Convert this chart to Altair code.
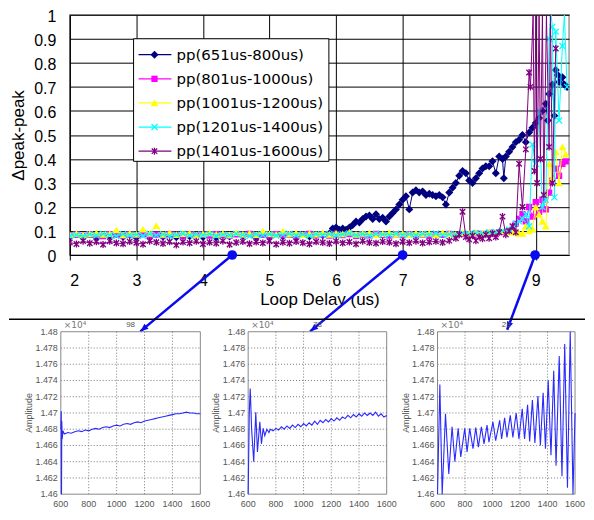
import altair as alt
import pandas as pd

# ---------------- main chart data ----------------
names = ["pp(651us-800us)", "pp(801us-1000us)", "pp(1001us-1200us)",
         "pp(1201us-1400us)", "pp(1401us-1600us)"]
colors = ["#000080", "#ff00ff", "#ffff00", "#00ffff", "#800080"]

grid_x = [round(2.0 + 0.1 * i, 1) for i in range(67)]  # sampling grid 2.0 .. 8.6

navy_flat_x = [round(2.0 + 0.2 * i, 1) for i in range(20)]
navy_flat_y = [0.074, 0.077, 0.072, 0.078, 0.075, 0.073, 0.079, 0.076, 0.074, 0.078,
               0.075, 0.072, 0.077, 0.079, 0.074, 0.076, 0.078, 0.073, 0.077, 0.082]
navy_x = [5.9, 5.95, 6.0, 6.05, 6.1, 6.15, 6.2, 6.25, 6.3, 6.35, 6.4, 6.45, 6.5, 6.55, 6.6,
          6.65, 6.7, 6.75, 6.8, 6.85, 6.9, 6.95, 7.0, 7.05, 7.1, 7.15, 7.2, 7.25, 7.3, 7.35,
          7.4, 7.45, 7.5, 7.55, 7.6, 7.65, 7.7, 7.75, 7.8, 7.85, 7.9, 7.95, 8.0, 8.05, 8.1,
          8.15, 8.2, 8.25, 8.3, 8.35, 8.4, 8.45, 8.5, 8.52, 8.55, 8.6, 8.65, 8.7, 8.75, 8.8,
          8.85, 8.9, 8.95, 9.0, 9.05, 9.1, 9.15, 9.18, 9.2, 9.25, 9.28, 9.3, 9.33, 9.35, 9.4,
          9.43, 9.47]
navy_y = [0.09, 0.11, 0.115, 0.105, 0.11, 0.105, 0.115, 0.125, 0.14, 0.135,
          0.15, 0.16, 0.165, 0.15, 0.17, 0.15, 0.155, 0.14, 0.16, 0.175,
          0.19, 0.21, 0.23, 0.245, 0.19, 0.26, 0.27, 0.26, 0.265, 0.25,
          0.255, 0.25, 0.245, 0.25, 0.24, 0.21, 0.26, 0.28, 0.30, 0.33,
          0.35, 0.34, 0.31, 0.30, 0.32, 0.34, 0.36, 0.37, 0.37, 0.39,
          0.34, 0.41, 0.40, 0.32, 0.41, 0.43, 0.45, 0.47, 0.48, 0.50,
          0.47, 0.51, 0.53, 0.55, 0.57, 0.60, 0.63, 0.56, 0.67, 0.71,
          0.58, 0.77, 0.75, 0.72, 0.74, 0.71, 0.70]

magenta_flat_y = [0.082, 0.085, 0.080, 0.086, 0.083, 0.079, 0.087, 0.084, 0.081, 0.086,
                  0.083, 0.088, 0.080, 0.085, 0.082, 0.087, 0.084, 0.079, 0.086, 0.083,
                  0.085, 0.081, 0.087, 0.083, 0.080, 0.086, 0.084, 0.088, 0.082, 0.085,
                  0.081, 0.087, 0.083, 0.086, 0.080, 0.084, 0.088, 0.082, 0.085, 0.081,
                  0.086, 0.083, 0.087, 0.080, 0.085, 0.082, 0.088, 0.084, 0.081, 0.086,
                  0.083, 0.087, 0.082, 0.085, 0.080, 0.086, 0.084, 0.088, 0.083, 0.087,
                  0.085, 0.090, 0.088, 0.092, 0.087, 0.095, 0.098]
late_x = [8.65, 8.7, 8.75, 8.8, 8.85, 8.9, 8.95, 9.0, 9.05, 9.1, 9.15, 9.2, 9.25, 9.3,
          9.35, 9.4, 9.45]
magenta_late_y = [0.10, 0.13, 0.15, 0.17, 0.14, 0.20, 0.16, 0.22, 0.18, 0.23, 0.19, 0.26,
                  0.31, 0.36, 0.33, 0.38, 0.39]

yellow_flat_y = [0.085, 0.090, 0.083, 0.088, 0.092, 0.086, 0.089, 0.105, 0.084, 0.091,
                 0.087, 0.108, 0.090, 0.122, 0.086, 0.093, 0.085, 0.089, 0.091, 0.084,
                 0.088, 0.092, 0.086, 0.090, 0.084, 0.093, 0.087, 0.091, 0.085, 0.100,
                 0.089, 0.086, 0.100, 0.088, 0.092, 0.085, 0.090, 0.087, 0.093, 0.086,
                 0.091, 0.088, 0.095, 0.086, 0.090, 0.092, 0.085, 0.089, 0.093, 0.087,
                 0.090, 0.086, 0.092, 0.088, 0.091, 0.085, 0.093, 0.089, 0.087, 0.092,
                 0.090, 0.094, 0.091, 0.097, 0.093, 0.100, 0.097]
yellow_late_y = [0.095, 0.10, 0.09, 0.09, 0.12, 0.10, 0.11, 0.20, 0.17, 0.14, 0.12, 0.38,
                 0.32, 0.43, 0.30, 0.45, 0.42]

cyan_flat_y = [0.080, 0.084, 0.078, 0.086, 0.081, 0.088, 0.083, 0.079, 0.087, 0.082,
               0.085, 0.080, 0.088, 0.083, 0.086, 0.079, 0.084, 0.089, 0.081, 0.086,
               0.083, 0.087, 0.080, 0.085, 0.082, 0.088, 0.084, 0.079, 0.086, 0.083,
               0.087, 0.081, 0.085, 0.089, 0.082, 0.086, 0.080, 0.087, 0.084, 0.088,
               0.082, 0.086, 0.090, 0.083, 0.087, 0.081, 0.088, 0.085, 0.083, 0.089,
               0.084, 0.087, 0.082, 0.088, 0.085, 0.090, 0.083, 0.087, 0.086, 0.091,
               0.088, 0.092, 0.090, 0.094, 0.096, 0.100, 0.105]
cyan_late_x = [8.65, 8.7, 8.75, 8.8, 8.85, 8.9, 8.95, 9.0, 9.05, 9.1, 9.15, 9.2, 9.23,
               9.25, 9.28, 9.3, 9.35, 9.4, 9.43, 9.47]
cyan_late_y = [0.11, 0.13, 0.14, 0.15, 0.17, 0.12, 0.46, 0.38, 0.60, 0.20, 0.23, 0.90,
               1.0, 0.95, 0.24, 0.93, 0.56, 0.87, 1.0, 0.70]

purple_flat_y = [0.052, 0.046, 0.058, 0.049, 0.055, 0.044, 0.057, 0.050, 0.047, 0.056,
                 0.051, 0.045, 0.058, 0.053, 0.048, 0.055, 0.042, 0.054, 0.050, 0.057,
                 0.046, 0.053, 0.049, 0.058, 0.044, 0.052, 0.056, 0.047, 0.054, 0.050,
                 0.057, 0.045, 0.053, 0.049, 0.056, 0.051, 0.046, 0.055, 0.052, 0.048,
                 0.057, 0.050, 0.054, 0.046, 0.058, 0.052, 0.049, 0.056, 0.053, 0.047,
                 0.055, 0.051, 0.058, 0.050, 0.054, 0.057, 0.052, 0.060]
purple_late_x = [7.8, 7.85, 7.9, 7.95, 8.0, 8.05, 8.1, 8.15, 8.2, 8.25, 8.3, 8.35, 8.4,
                 8.45, 8.5, 8.55, 8.6, 8.65, 8.7, 8.75, 8.8, 8.85, 8.9, 8.92, 8.96, 8.98,
                 9.0, 9.02, 9.05, 9.07, 9.1, 9.12, 9.16, 9.2, 9.22, 9.25, 9.3]
purple_late_y = [0.070, 0.085, 0.18, 0.075, 0.065, 0.080, 0.060, 0.075, 0.068, 0.085,
                 0.070, 0.090, 0.075, 0.095, 0.16, 0.085, 0.10, 0.12, 0.095, 0.38,
                 0.20, 0.44, 0.76, 0.70, 1.0, 0.35, 1.0, 0.30, 1.0, 0.40, 1.0, 0.25,
                 1.0, 0.45, 1.0, 0.30, 0.86]

series_x = [navy_flat_x + navy_x,
            grid_x + late_x,
            grid_x + late_x,
            grid_x + cyan_late_x,
            grid_x[:58] + purple_late_x]
series_y = [navy_flat_y + navy_y,
            magenta_flat_y + magenta_late_y,
            yellow_flat_y + yellow_late_y,
            cyan_flat_y + cyan_late_y,
            purple_flat_y + purple_late_y]

# arrows (loop delays shown in the insets)
arrow_x0 = [4.44, 7.0, 8.99]
arrow_y0 = [0.0, 0.0, 0.0]
arrow_x1 = [3.06, 5.61, 8.57]
arrow_y1 = [-0.318, -0.318, -0.311]
arrow_angle = [230, 231, 201]

# ---------------- inset data ----------------
inset_titles = ["98", "78", "28"]
in1_x = [600, 603, 605, 607, 610, 615, 625, 650, 675, 700, 725, 750, 775, 800, 825, 850,
         875, 900, 925, 950, 975, 1000, 1025, 1050, 1075, 1100, 1125, 1150, 1175, 1200,
         1225, 1250, 1275, 1300, 1325, 1350, 1375, 1400, 1425, 1450, 1475, 1500, 1525,
         1550, 1575, 1600]
in1_y = [1.4680, 1.4702, 1.4600, 1.4690, 1.4668, 1.4678, 1.4674, 1.4676, 1.4675, 1.4677,
         1.4678, 1.4677, 1.4679, 1.4678, 1.4680, 1.4681, 1.4680, 1.4682, 1.4683, 1.4682,
         1.4684, 1.4685, 1.4684, 1.4686, 1.4687, 1.4686, 1.4688, 1.4689, 1.4688, 1.4690,
         1.4691, 1.4692, 1.4693, 1.4694, 1.4695, 1.4696, 1.4697, 1.4698, 1.4699, 1.4699,
         1.4700, 1.4701, 1.4700, 1.4700, 1.4699, 1.4699]
in2_x = [600, 608, 615, 625, 640, 655, 667, 684, 696, 708, 720, 735, 750,
         760, 780, 800, 820, 840, 860, 880, 900, 920, 940, 960, 980, 1000, 1020, 1040,
         1060, 1080, 1100, 1120, 1140, 1160, 1180, 1200, 1220, 1240, 1260, 1280, 1300,
         1320, 1340, 1360, 1380, 1400, 1420, 1440, 1460, 1480, 1500, 1520, 1540, 1560,
         1580, 1600]
in2_y = [1.4600, 1.4700, 1.4730, 1.4680, 1.4640, 1.4701, 1.4652, 1.4689, 1.4662, 1.4681,
         1.4672, 1.4680, 1.4676,
         1.4680, 1.4678, 1.4681, 1.4679, 1.4683, 1.4680, 1.4684, 1.4681, 1.4685, 1.4682,
         1.4686, 1.4683, 1.4687, 1.4684, 1.4688, 1.4685, 1.4690, 1.4686, 1.4691, 1.4688,
         1.4692, 1.4689, 1.4693, 1.4690, 1.4694, 1.4691, 1.4695, 1.4693, 1.4697, 1.4694,
         1.4698, 1.4695, 1.4699, 1.4696, 1.4700, 1.4697, 1.4700, 1.4697, 1.4701, 1.4696,
         1.4699, 1.4695, 1.4697]
in3_x = [600, 617, 634, 658, 682, 706, 726, 750, 769, 798, 815, 834, 858, 878, 897, 919,
         938, 960, 974, 1003, 1023, 1052, 1066, 1088, 1105, 1129, 1148, 1172, 1192, 1216,
         1233, 1255, 1270, 1290, 1308, 1330, 1348, 1368, 1385, 1405, 1425, 1445, 1462,
         1485, 1505, 1525, 1545, 1565, 1585, 1600]
in3_y = [1.4600, 1.4735, 1.4600, 1.4699, 1.4625, 1.4683, 1.4640, 1.4681, 1.4646, 1.4681,
         1.4652, 1.4681, 1.4656, 1.4682, 1.4658, 1.4683, 1.4662, 1.4685, 1.4664, 1.4689,
         1.4666, 1.4691, 1.4668, 1.4694, 1.4670, 1.4697, 1.4670, 1.4700, 1.4668, 1.4705,
         1.4668, 1.4710, 1.4665, 1.4716, 1.4663, 1.4721, 1.4660, 1.4725, 1.4656, 1.4740,
         1.4648, 1.4752, 1.4635, 1.4770, 1.4622, 1.4785, 1.4608, 1.4800, 1.4600, 1.4700]
inset_x_ticks = [600, 800, 1000, 1200, 1400, 1600]
inset_y_ticks = [round(1.46 + 0.002 * i, 3) for i in range(11)]
inset_x_domain = [600, 1600]
inset_y_domain = [1.46, 1.48]

# ---------------- styles ----------------
FONT = "Liberation Sans"
BLUE = "#0a0af0"
X_PATH = "M-1,-1L1,1M-1,1L1,-1"
STAR_PATH = "M-1,-1L1,1M-1,1L1,-1M0,-1.3L0,1.3"
marker_styles = [
    dict(shape="diamond", filled=True, size=64),
    dict(shape="square", filled=True, size=40),
    dict(shape="triangle-up", filled=True, size=60),
    dict(shape=X_PATH, filled=False, size=36, strokeWidth=1.3),
    dict(shape=STAR_PATH, filled=False, size=30, strokeWidth=1.3),
]
# inset plot boxes, pixels relative to the main plot's top-left corner
inset_px = [(-9, 131), (179, 318), (369, 507)]
inset_py = (481, 318)

xscale = alt.Scale(domain=[2, 9.5], nice=False, zero=False)
yscale = alt.Scale(domain=[0, 1], nice=False, zero=False)
xaxis = alt.Axis(values=list(range(2, 10)), title="Loop Delay (us)", grid=True,
                 gridColor="#000", gridWidth=1, domainColor="#000", tickColor="#000",
                 tickSize=5, labelFont=FONT, labelFontSize=16, labelColor="#000",
                 labelPadding=13, titleFont=FONT, titleFontSize=17,
                 titleFontWeight="normal", titleColor="#000", titlePadding=3)
yaxis = alt.Axis(values=[round(0.1 * i, 1) for i in range(11)], format=".1~f",
                 title="Δpeak-peak", grid=True, gridColor="#000", gridWidth=1,
                 domainColor="#000", ticks=False, tickSize=0, labelFont=FONT,
                 labelFontSize=16, labelColor="#000", labelPadding=14, labelOffset=2,
                 titleFont=FONT, titleFontSize=17, titleFontWeight="normal",
                 titleColor="#000", titlePadding=6)


def X(f):
    return alt.X(f, type="quantitative", scale=xscale, axis=xaxis)


def Y(f):
    return alt.Y(f, type="quantitative", scale=yscale, axis=yaxis)


layers = []
for i in range(5):
    df = pd.DataFrame({"x": series_x[i], "y": series_y[i]})
    layers.append(alt.Chart(df).mark_line(color=colors[i], strokeWidth=1, clip=True)
                  .encode(x=X("x"), y=Y("y")))
    st = marker_styles[i]
    layers.append(alt.Chart(df).mark_point(color=colors[i], opacity=1, clip=True, **st)
                  .encode(x=X("x"), y=Y("y")).transform_filter("datum.y < 1"))

# legend (drawn by hand, Excel style: line + marker)
one = pd.DataFrame({"a": [0]})
layers.append(alt.Chart(one).mark_rect(fill="white", stroke="#000", strokeWidth=1)
              .encode(x=alt.value(64), x2=alt.value(260), y=alt.value(24), y2=alt.value(147)))
for i in range(5):
    yv = 40 + 24.2 * i
    layers.append(alt.Chart(one).mark_rule(color=colors[i], strokeWidth=1.2)
                  .encode(x=alt.value(69), x2=alt.value(102), y=alt.value(yv)))
    layers.append(alt.Chart(one).mark_point(color=colors[i], opacity=1, **marker_styles[i])
                  .encode(x=alt.value(85), y=alt.value(yv)))
    layers.append(alt.Chart(one).mark_text(text=names[i], align="left", baseline="middle",
                                           font="DejaVu Sans", fontSize=15, color="#000")
                  .encode(x=alt.value(107), y=alt.value(yv)))

# arrows
adf = pd.DataFrame({"x": arrow_x0, "y": arrow_y0, "x2": arrow_x1, "y2": arrow_y1,
                    "ang": arrow_angle})
layers.append(alt.Chart(adf).mark_rule(color=BLUE, strokeWidth=2.5)
              .encode(x=X("x"), y=Y("y"), x2="x2:Q", y2="y2:Q"))
layers.append(alt.Chart(adf).mark_circle(color=BLUE, size=95, opacity=1)
              .encode(x=X("x"), y=Y("y")))
layers.append(alt.Chart(adf).mark_point(shape="M0,0L-0.8,2L0.8,2Z", filled=True,
                                        color=BLUE, size=64, opacity=1)
              .encode(x=X("x2"), y=Y("y2"), angle=alt.Angle("ang:Q", scale=None)))
# separator line
layers.append(alt.Chart(one).mark_rule(color="#000", strokeWidth=1.5)
              .encode(x=alt.value(-61), x2=alt.value(517), y=alt.value(305.5)))

top = alt.layer(*layers)


# ---------------- insets (own scales, drawn below the main plot) ----------------
def inset(xs, ys, title, k):
    xs_scale = alt.Scale(domain=inset_x_domain, range=list(inset_px[k]), nice=False,
                         zero=False)
    ys_scale = alt.Scale(domain=inset_y_domain, range=list(inset_py), nice=False,
                         zero=False)

    def IX(f):
        return alt.X(f, type="quantitative", scale=xs_scale, axis=None)

    def IY(f):
        return alt.Y(f, type="quantitative", scale=ys_scale, axis=None)

    gv = pd.DataFrame({"t": inset_x_ticks[1:-1],
                       "a0": [inset_y_domain[0]] * 4, "a1": [inset_y_domain[1]] * 4})
    gh = pd.DataFrame({"a": inset_y_ticks[1:-1],
                       "t0": [inset_x_domain[0]] * 9, "t1": [inset_x_domain[1]] * 9})
    box = pd.DataFrame({"t0": [inset_x_domain[0]], "t1": [inset_x_domain[1]],
                        "a0": [inset_y_domain[0]], "a1": [inset_y_domain[1]]})
    xl = pd.DataFrame({"t": inset_x_ticks, "a": [inset_y_domain[0]] * 6})
    yl = pd.DataFrame({"t": [inset_x_domain[0]] * 11, "a": inset_y_ticks})
    corner = pd.DataFrame({"t": [inset_x_domain[0]], "a": [inset_y_domain[1]]})
    midl = pd.DataFrame({"t": [inset_x_domain[0]], "a": [1.47]})
    midt = pd.DataFrame({"t": [1100], "a": [inset_y_domain[1]]})
    df = pd.DataFrame({"t": xs, "a": ys})

    parts = [
        alt.Chart(gv).mark_rule(color="#777", strokeDash=[1, 2], strokeWidth=1)
        .encode(x=IX("t"), y=IY("a0"), y2="a1:Q"),
        alt.Chart(gh).mark_rule(color="#777", strokeDash=[1, 2], strokeWidth=1)
        .encode(y=IY("a"), x=IX("t0"), x2="t1:Q"),
        alt.Chart(box).mark_rect(fill="transparent", stroke="#888", strokeWidth=1)
        .encode(x=IX("t0"), x2="t1:Q", y=IY("a0"), y2="a1:Q"),
        alt.Chart(df).mark_line(color="#2a2aff", strokeWidth=1.1)
        .encode(x=IX("t"), y=IY("a")),
        alt.Chart(xl).mark_text(baseline="top", dy=6, font=FONT, fontSize=9,
                                color="#555")
        .encode(x=IX("t"), y=IY("a"), text=alt.Text("t:Q", format="d")),
        alt.Chart(yl).mark_text(align="right", baseline="middle", dx=-3, font=FONT,
                                fontSize=9, color="#555")
        .encode(x=IX("t"), y=IY("a"), text=alt.Text("a:Q", format=".3~f")),
        alt.Chart(midl).mark_text(text="Amplitude", angle=270, align="center",
                                  baseline="middle", dy=-32, font=FONT, fontSize=9,
                                  color="#555")
        .encode(x=IX("t"), y=IY("a")),
        alt.Chart(midt).mark_text(text=title, baseline="bottom", dy=-3, font=FONT,
                                  fontSize=8, color="#555")
        .encode(x=IX("t"), y=IY("a")),
        alt.Chart(corner).mark_text(text="×10⁴", align="left", baseline="bottom", dx=3,
                                    dy=-2, font="DejaVu Sans", fontSize=9, color="#777")
        .encode(x=IX("t"), y=IY("a")),
    ]
    return alt.layer(*parts)


chart = alt.layer(
    top,
    inset(in1_x, in1_y, inset_titles[0], 0),
    inset(in2_x, in2_y, inset_titles[1], 1),
    inset(in3_x, in3_y, inset_titles[2], 2),
).resolve_scale(x="independent", y="independent").properties(
    width=501, height=241, padding=0,
    view=alt.ViewBackground(stroke="#999", strokeWidth=1.5))

chart.save("out.html", embed_options={"renderer": "svg", "actions": False})
